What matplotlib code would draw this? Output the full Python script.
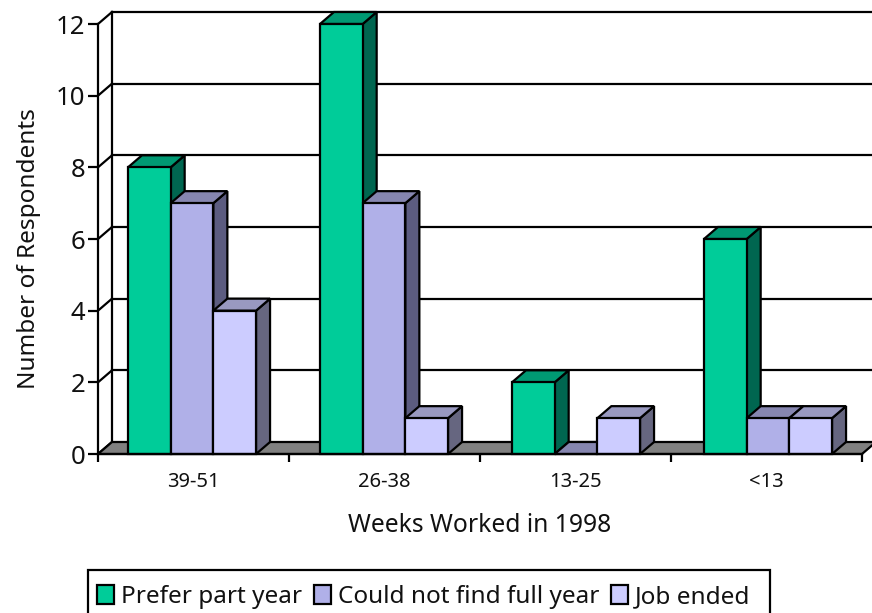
import matplotlib
matplotlib.use("Agg")
import matplotlib.pyplot as plt
from matplotlib.patches import Polygon, Patch, Rectangle

plt.rcParams['font.family'] = ['Noto Sans', 'DejaVu Sans']

categories = ['39-51', '26-38', '13-25', '<13']
prefer_part_year = [8, 12, 2, 6]
could_not_find = [7, 7, 0, 1]
job_ended = [4, 1, 1, 1]
series_names = ['Prefer part year', 'Could not find full year', 'Job ended']

front_colors = ['#00CC99', '#B0B0E8', '#CCCCFF']
top_colors = ['#009973', '#8686B0', '#9999C0']
side_colors = ['#006650', '#5C5C80', '#666680']
floor_color = '#808080'
text_color = '#111111'

W, H = 872, 613
fig = plt.figure(figsize=(W / 100, H / 100), dpi=100)
ax = fig.add_axes([98 / W, 1 - 454 / H, 764 / W, 430 / H])
ax.set_xlim(0, 4)
ax.set_ylim(0, 12)

# depth of the fake 3d box, in data units
dx = 14 / 191
dy = 12 / 35.8
lw = 1.6

# back wall and left wall
for v in range(0, 14, 2):
    if v > 0:
        ax.plot([dx, 4 + dx], [v + dy, v + dy], color='k', lw=lw, clip_on=False, zorder=1)
    ax.plot([0, dx], [v, v + dy], color='k', lw=lw, clip_on=False, zorder=1)
ax.plot([dx, dx], [dy, 12 + dy], color='k', lw=lw, clip_on=False, zorder=1)

# floor
ax.add_patch(Polygon([(0, 0), (dx, dy), (4 + dx, dy), (4, 0)], facecolor=floor_color,
                     edgecolor='k', lw=lw, clip_on=False, zorder=2))

# bars, left to right so the nearer sides overlap properly
bar_w = 0.2235
start = 0.157
step = 192 / 191
series = [prefer_part_year, could_not_find, job_ended]
z = 3
for c in range(len(categories)):
    for s, vals in enumerate(series):
        x0 = c * step + start + s * bar_w
        x1 = x0 + bar_w
        v = vals[c]
        ax.add_patch(Polygon([(x1, 0), (x1 + dx, dy), (x1 + dx, v + dy), (x1, v)],
                             facecolor=side_colors[s], edgecolor='k', lw=lw,
                             clip_on=False, zorder=z))
        ax.add_patch(Polygon([(x0, v), (x0 + dx, v + dy), (x1 + dx, v + dy), (x1, v)],
                             facecolor=top_colors[s], edgecolor='k', lw=lw,
                             clip_on=False, zorder=z))
        if v > 0:
            ax.bar(x0, v, bar_w, align='edge', color=front_colors[s], edgecolor='k',
                   lw=lw, clip_on=False, zorder=z)
        z += 1

for name in ['top', 'right']:
    ax.spines[name].set_visible(False)
for name in ['left', 'bottom']:
    ax.spines[name].set_linewidth(lw)
    ax.spines[name].set_zorder(30)

ax.set_yticks(range(0, 14, 2))
ax.tick_params(axis='y', labelsize=18.5, length=7, width=lw, pad=2, labelcolor=text_color)
ax.set_xticks(range(5))
ax.set_xticklabels([])
ax.tick_params(axis='x', which='major', length=6, width=lw)
ax.set_xticks([i + 0.5 for i in range(4)], minor=True)
ax.set_xticklabels(categories, minor=True, fontsize=14.5, color=text_color)
ax.tick_params(axis='x', which='minor', length=0, pad=13)

fig.text(480 / W, 1 - 526 / H, 'Weeks Worked in 1998', fontsize=17.7, ha='center', va='center',
         color=text_color)
fig.text(29 / W, 1 - 249 / H, 'Number of Respondents', fontsize=17.5, ha='center', va='center',
         rotation=90, color=text_color)

# legend box runs off the bottom of the canvas
fig.add_artist(Rectangle((88 / W, -10 / H), 682 / W, (H - 570 + 10) / H, transform=fig.transFigure,
                         facecolor='white', edgecolor='k', lw=lw))
handles = [Patch(facecolor=front_colors[i], edgecolor='k', lw=lw) for i in range(3)]
leg = fig.legend(handles, series_names, loc='center left', bbox_to_anchor=(97 / W, 1 - 597 / H),
                 ncol=3, fontsize=17.5, frameon=False, borderpad=0, borderaxespad=0,
                 handlelength=0.7, handleheight=0.78, handletextpad=0.28, columnspacing=0.5,
                 labelcolor=text_color)

plt.savefig('out.png', dpi=100)
